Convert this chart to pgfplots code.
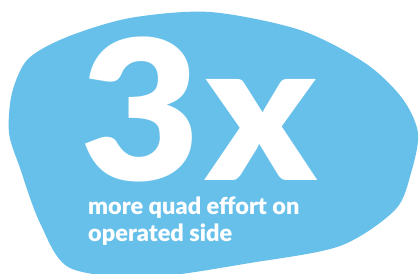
\documentclass[border=0pt]{standalone}
\usepackage{pgfplots}
\pgfplotsset{compat=1.18}
\usepackage{fontspec}
\setmainfont{Lato}
\newfontfamily\heavy{Lato Black}
\definecolor{blobblue}{HTML}{66C0EA}
\begin{document}
\begin{tikzpicture}
\begin{axis}[width=420pt, height=273pt, scale only axis,
  xmin=0, xmax=420, ymin=0, ymax=273, hide axis, clip=false]
\addplot[fill=blobblue, draw=none, smooth cycle, tension=0.5] coordinates {
(210,261) (130,255) (67,236) (28,214) (12,180) (9,140) (20,105) (40,50) (70,5) (150,-4) (250,10) (340,27)
(395,63) (411,100) (418,140) (402,175) (365,210) (300,243)};
\node[anchor=base west, inner sep=0pt, text=white, xscale=1.06, font=\heavy\fontsize{195}{195}\selectfont] at (axis cs:80,92) {3};
\node[anchor=base west, inner sep=0pt, text=white, xscale=1.05, font=\heavy\fontsize{195}{195}\selectfont] at (axis cs:205,92) {x};
\node[anchor=base west, inner sep=0pt, text=white, font=\heavy\fontsize{23.5}{27}\selectfont] at (axis cs:88,58) {more quad effort on};
\node[anchor=base west, inner sep=0pt, text=white, font=\heavy\fontsize{23.5}{27}\selectfont] at (axis cs:88,31) {operated side};
\coordinate (BBA) at (axis cs:0,0);
\coordinate (BBB) at (axis cs:420,273);
\end{axis}
\pgfresetboundingbox
\path[use as bounding box] (BBA) rectangle (BBB);
\end{tikzpicture}
\end{document}
